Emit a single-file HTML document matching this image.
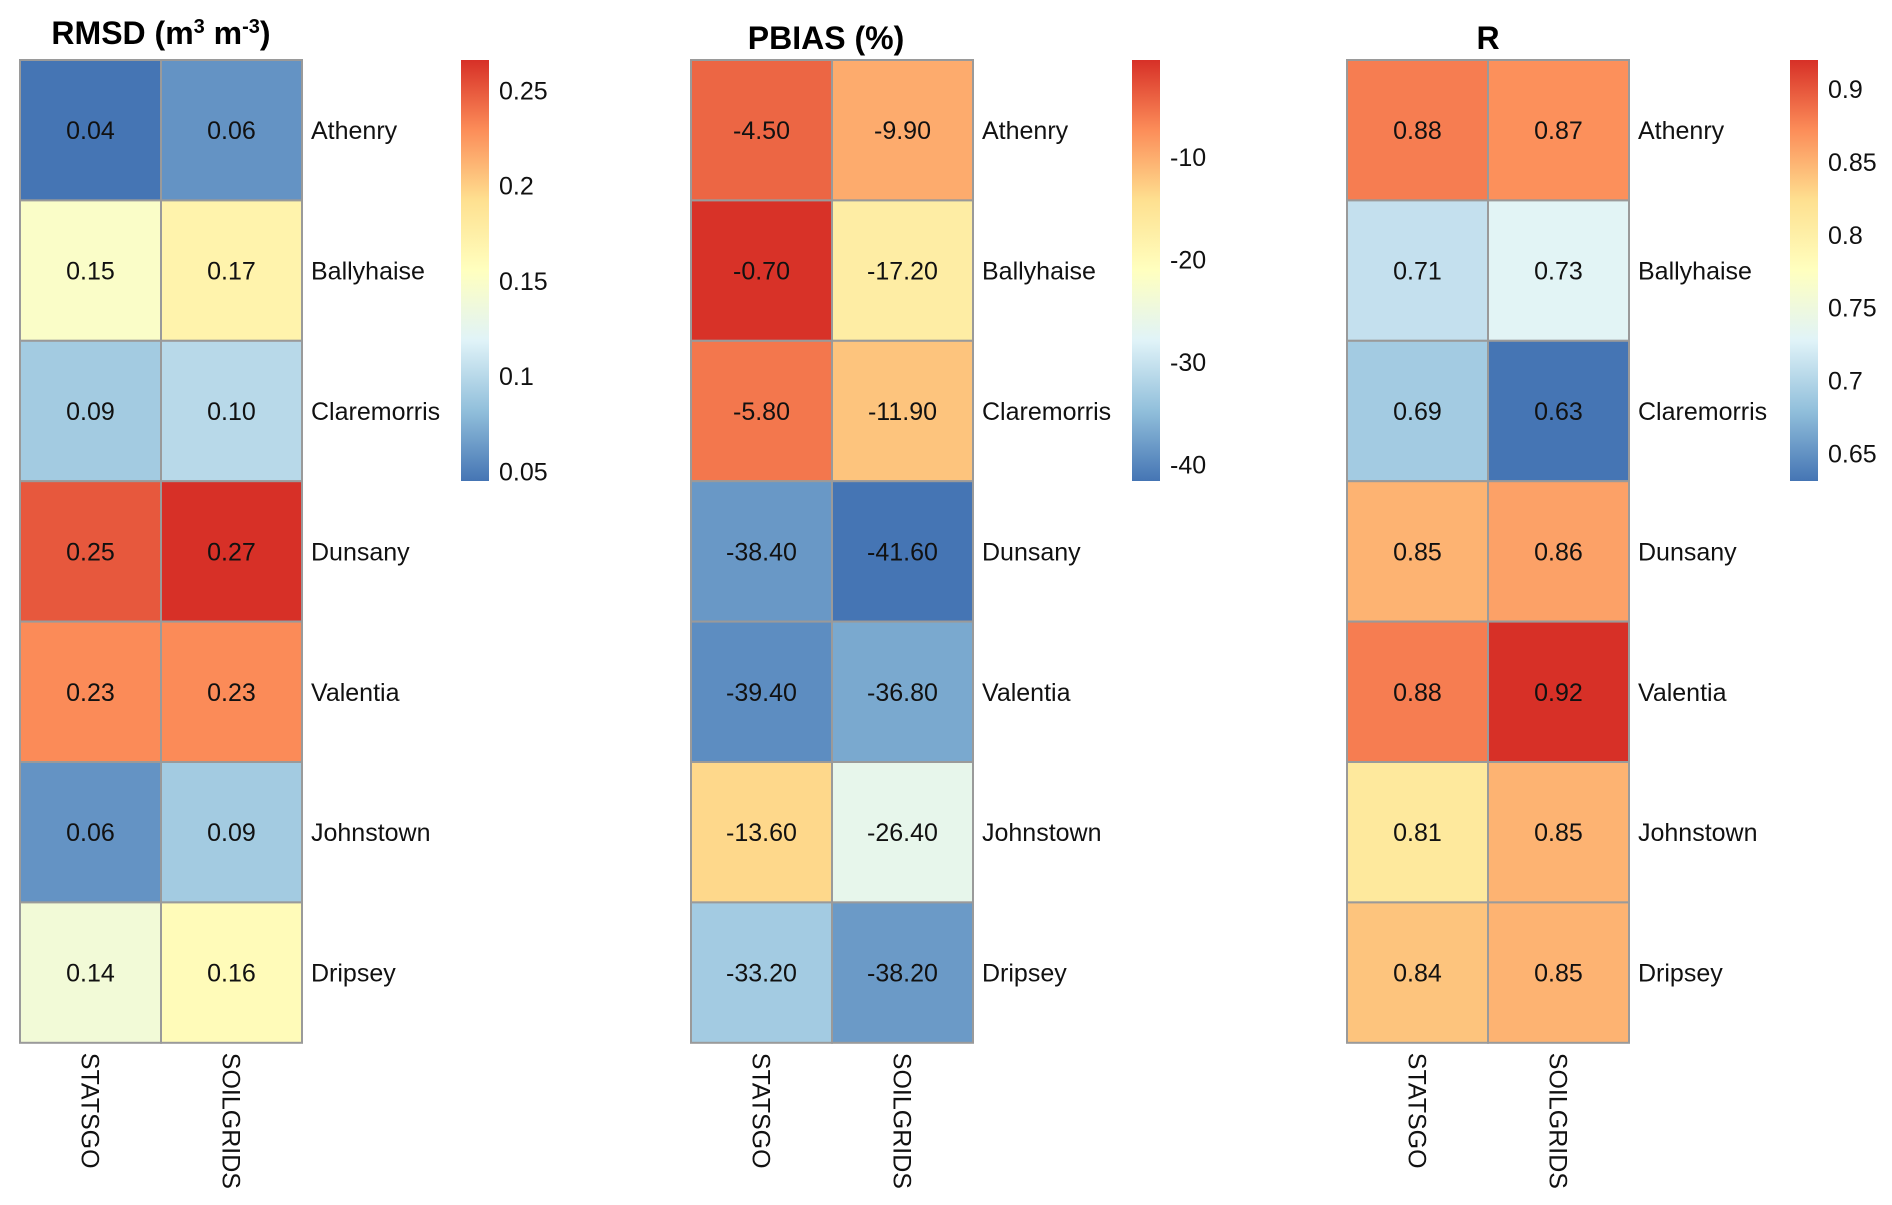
<!DOCTYPE html>
<html><head><meta charset="utf-8">
<style>
html,body{margin:0;padding:0;background:#fff;}
svg{display:block;font-family:"Liberation Sans",Arial,sans-serif;}
</style></head>
<body>
<svg id="chart" width="1892" height="1205" viewBox="0 0 1892 1205" xmlns="http://www.w3.org/2000/svg">
<defs>
<linearGradient id="grad" x1="0" y1="1" x2="0" y2="0">
<stop offset="0" stop-color="#4575B4"/><stop offset="0.1667" stop-color="#91BFDB"/><stop offset="0.3333" stop-color="#E0F3F8"/><stop offset="0.5" stop-color="#FFFFBF"/><stop offset="0.6667" stop-color="#FEE090"/><stop offset="0.8333" stop-color="#FC8D59"/><stop offset="1" stop-color="#D73027"/>
</linearGradient>
</defs>
</svg>
<script>
const stations = ["Athenry","Ballyhaise","Claremorris","Dunsany","Valentia","Johnstown","Dripsey"];
const products = ["STATSGO","SOILGRIDS"];
const rmsdStatsgo = [0.04,0.15,0.09,0.25,0.23,0.06,0.14];
const rmsdSoilgrids = [0.06,0.17,0.10,0.27,0.23,0.09,0.16];
const pbiasStatsgo = [-4.50,-0.70,-5.80,-38.40,-39.40,-13.60,-33.20];
const pbiasSoilgrids = [-9.90,-17.20,-11.90,-41.60,-36.80,-26.40,-38.20];
const rStatsgo = [0.88,0.71,0.69,0.85,0.88,0.81,0.84];
const rSoilgrids = [0.87,0.73,0.63,0.86,0.92,0.85,0.85];
const rmsdDomain = [0.045,0.266];
const pbiasDomain = [-41.6,-0.56];
const rDomain = [0.631,0.92];
const rmsdTicks = [0.05,0.1,0.15,0.2,0.25];
const rmsdTickLabels = ["0.05","0.1","0.15","0.2","0.25"];
const pbiasTicks = [-40,-30,-20,-10];
const pbiasTickLabels = ["-40","-30","-20","-10"];
const rTicks = [0.65,0.7,0.75,0.8,0.85,0.9];
const rTickLabels = ["0.65","0.7","0.75","0.8","0.85","0.9"];

const NS="http://www.w3.org/2000/svg";
const svg=document.getElementById('chart');
const palette=["#4575B4","#91BFDB","#E0F3F8","#FFFFBF","#FEE090","#FC8D59","#D73027"];
function hex(h){return [1,3,5].map(i=>parseInt(h.substr(i,2),16));}
function colorOf(v,dom){
  let t=(v-dom[0])/(dom[1]-dom[0]);t=Math.max(0,Math.min(1,t));
  const p=t*6,i=Math.min(5,Math.floor(p)),f=p-i;
  const a=hex(palette[i]),b=hex(palette[i+1]);
  return 'rgb('+a.map((c,k)=>Math.round(c+(b[k]-c)*f)).join(',')+')';
}
function el(tag,attrs,parent){const e=document.createElementNS(NS,tag);for(const k in attrs)e.setAttribute(k,attrs[k]);(parent||svg).appendChild(e);return e;}

const TOP=60,ROWH=140.4,CELLW=141;
function panel(key,title,left,cols,dom,ticks,tickLabels,titleDx,cbX,titleY){
  const g=el('g',{});
  
  
  const cx=left+CELLW+titleDx;
  const t=el('text',{x:cx,y:titleY,'text-anchor':'middle','font-size':'32','font-weight':'bold'},g);
  
  
  t.innerHTML=title;
  const yRow=i=>TOP+i*ROWH;
  const xCol=j=>left+j*CELLW;
  cols.forEach((arr,j)=>{
    arr.forEach((v,i)=>{
      const r=el('rect',{x:xCol(j),y:yRow(i),width:CELLW,height:ROWH,fill:colorOf(v,dom),stroke:'#9a9a9a','stroke-width':'2'},g);
      
      
      const tx=el('text',{x:xCol(j)+CELLW/2,y:yRow(i)+ROWH/2+9,'text-anchor':'middle','font-size':'25',fill:'#111'},g);
      
      
      tx.textContent=v.toFixed(2);
    });
  });
  stations.forEach((s,i)=>{
    const tx=el('text',{x:left+2*CELLW+9,y:yRow(i)+ROWH/2+9,'font-size':'25',fill:'#111'},g);
    
    
    tx.textContent=s;
  });
  products.forEach((p,j)=>{
    const bx=xCol(j)+CELLW/2-9, by=TOP+7*ROWH+10;
    const tx=el('text',{x:bx,y:by,'font-size':'25',fill:'#111',transform:'rotate(90 '+bx+' '+by+')'},g);
    
    
    tx.textContent=p;
  });
  const cbTop=60,cbBot=481;
  const cb=el('rect',{x:cbX,y:cbTop,width:28,height:cbBot-cbTop,fill:'url(#grad)'},g);
  
  
  const yScale=v=>cbBot-(v-dom[0])/(dom[1]-dom[0])*(cbBot-cbTop);
  ticks.forEach((v,i)=>{
    const tx=el('text',{x:cbX+38,y:yScale(v)+9,'font-size':'25',fill:'#111'},g);
    
    
    tx.textContent=tickLabels[i];
  });
}
panel('rmsd','RMSD (m<tspan font-size="20" dy="-11">3</tspan><tspan dy="11"> m</tspan><tspan font-size="20" dy="-11">-3</tspan><tspan dy="11">)</tspan>',20,[rmsdStatsgo,rmsdSoilgrids],rmsdDomain,rmsdTicks,rmsdTickLabels,0,461,44);
panel('pbias','PBIAS (%)',691,[pbiasStatsgo,pbiasSoilgrids],pbiasDomain,pbiasTicks,pbiasTickLabels,-6,1132,49);
panel('r','R',1347,[rStatsgo,rSoilgrids],rDomain,rTicks,rTickLabels,0,1790,49);
</script>
</body></html>
